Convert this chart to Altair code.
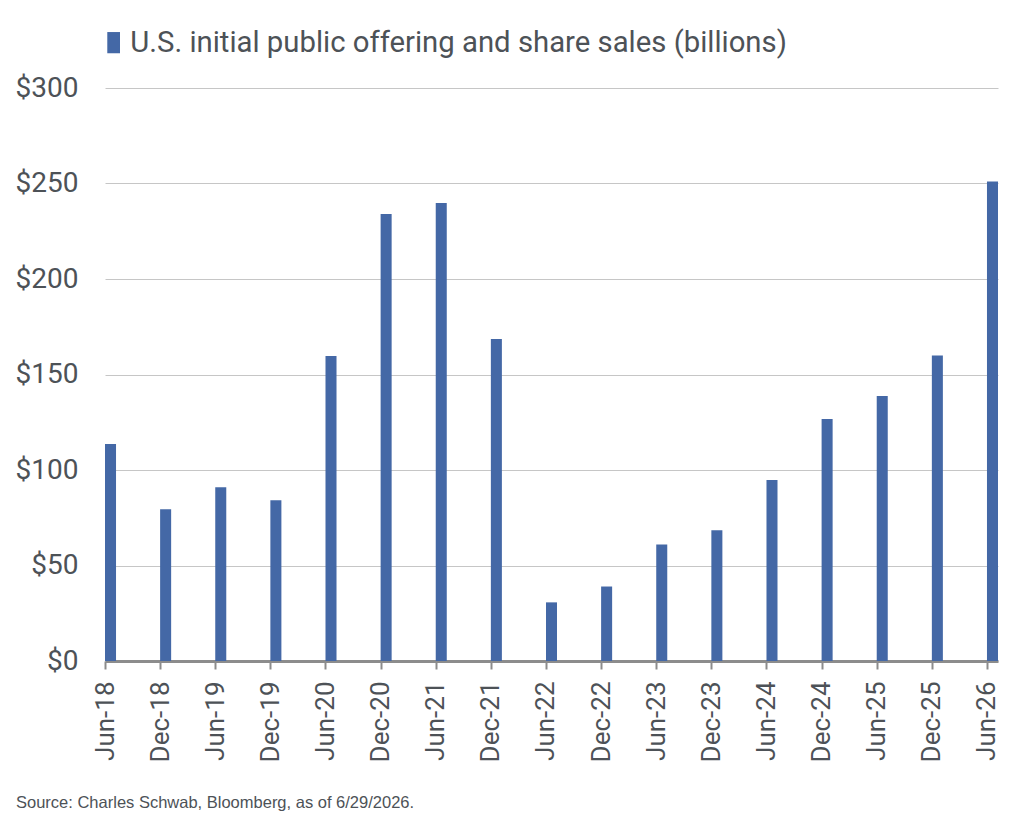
import altair as alt
import pandas as pd
import json

periods = ["Jun-18", "Dec-18", "Jun-19", "Dec-19", "Jun-20", "Dec-20", "Jun-21", "Dec-21",
           "Jun-22", "Dec-22", "Jun-23", "Dec-23", "Jun-24", "Dec-24", "Jun-25", "Dec-25", "Jun-26"]
values = [113.6, 79.5, 91.0, 84.2, 159.7, 234.0, 239.8, 168.6,
          30.7, 39.0, 61.0, 68.4, 94.8, 126.7, 138.7, 160.0, 251.0]
series_name = "U.S. initial public offering and share sales (billions)"
source_note = "Source: Charles Schwab, Bloomberg, as of 6/29/2026."

df = pd.DataFrame({
    "idx": list(range(len(periods))),
    "period": periods,
    "value": values,
    "series": [series_name] * len(periods),
})
df["idx2"] = df["idx"] + 0.2

label_expr = json.dumps(periods) + "[datum.value]"

text_color = "#4d5257"

chart = alt.Chart(df).mark_bar(color="#4468a6").encode(
    x=alt.X("idx:Q",
            scale=alt.Scale(domain=[0, 16.2], nice=False, zero=False),
            axis=alt.Axis(title=None, values=list(range(len(periods))), labelExpr=label_expr,
                          labelAngle=-90, labelFontSize=26, labelColor=text_color,
                          labelFont="Roboto", grid=False,
                          domainColor="#8c8c8c", domainWidth=3, tickColor="#8c8c8c",
                          tickWidth=2, tickSize=8, labelPadding=12)),
    x2="idx2:Q",
    y=alt.Y("value:Q",
            scale=alt.Scale(domain=[0, 300], nice=False),
            axis=alt.Axis(title=None, values=[0, 50, 100, 150, 200, 250, 300],
                          labelExpr="'$' + datum.value", labelFontSize=28,
                          labelColor=text_color, labelFont="Roboto",
                          ticks=False, domain=False, labelPadding=27,
                          gridColor="#c6c6c6", gridWidth=1)),
    y2=alt.datum(0),
    color=alt.Color("series:N",
                    scale=alt.Scale(range=["#4468a6"]),
                    legend=alt.Legend(title=None, orient="none", legendX=-6, legendY=-60,
                                      symbolType="M-0.6,-1H0.6V1H-0.6Z", symbolSize=450,
                                      symbolStrokeWidth=0, symbolOpacity=1,
                                      labelFontSize=29.3, labelFont="Roboto",
                                      labelColor=text_color, labelOffset=2,
                                      labelLimit=900)),
).properties(
    width=893,
    height=573,
    background="white",
    autosize=alt.AutoSizeParams(type="none"),
    padding={"left": 105, "top": 88, "right": 23, "bottom": 171},
    title=alt.TitleParams(source_note, orient="bottom", anchor="start", frame="group",
                          dx=-89, offset=33, fontSize=16.5, font="Liberation Sans",
                          fontWeight="normal", color="#4d5257"),
).configure_view(stroke=None)

chart.save("out.html", embed_options={"renderer": "svg", "actions": False})
